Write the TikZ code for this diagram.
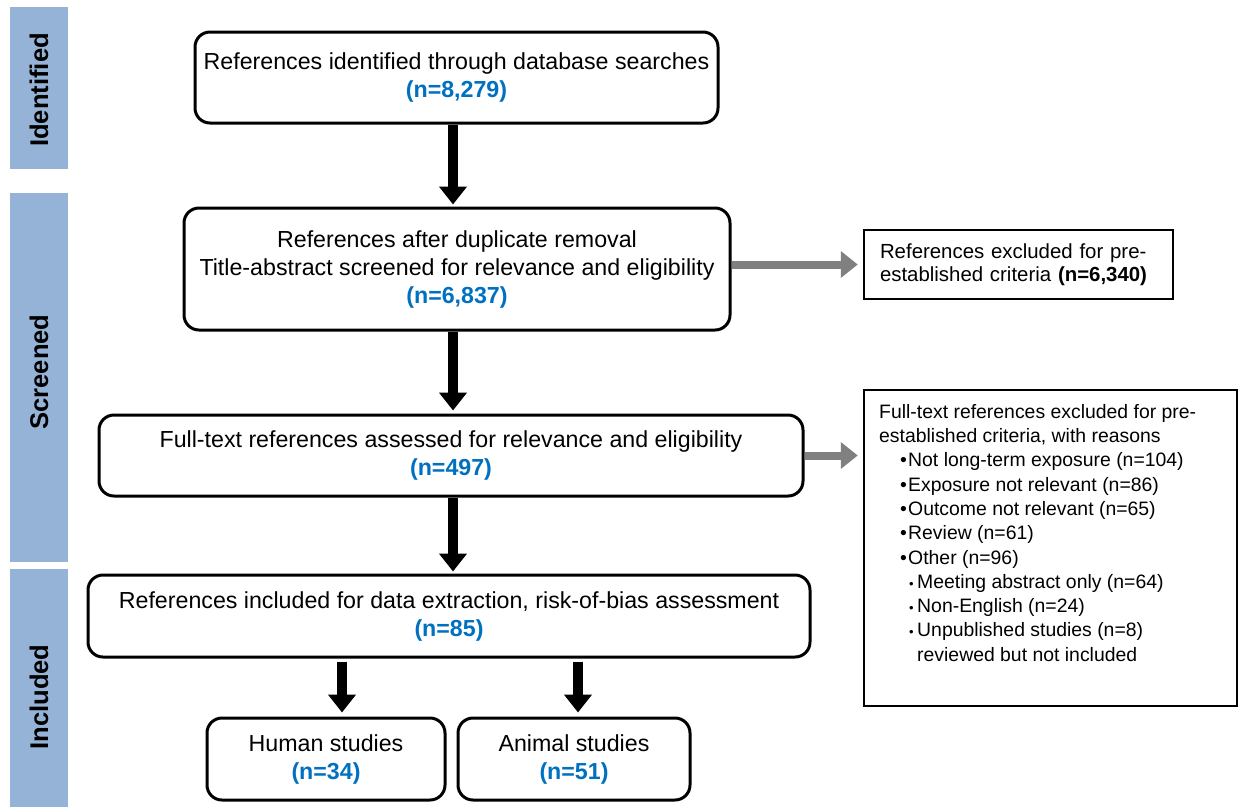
\documentclass[tikz,border=0pt]{standalone}
\usepackage{fontspec}
\setmainfont{Liberation Sans}
\usetikzlibrary{arrows.meta}
\definecolor{barblue}{HTML}{95B3D7}
\definecolor{numblue}{HTML}{0070C0}
\definecolor{sidegray}{HTML}{808080}
\newcommand{\cnt}[1]{\textbf{\color{numblue}#1}}
\newcommand{\itemA}{\hspace*{21pt}\makebox[8pt][l]{\textbullet}}
\newcommand{\itemB}{\hspace*{30pt}\makebox[8pt][l]{\fontsize{13}{13}\selectfont\textbullet}}
\begin{document}
\begin{tikzpicture}[x=1pt, y=-1pt,
	sidebar/.style={fill=barblue, minimum width=58pt, inner sep=0pt},
	sidelabel/.style={rotate=90, inner sep=0pt, font=\fontsize{25.6}{25.6}\selectfont\bfseries},
	stage/.style={draw, line width=3pt, rounded corners=15pt, align=center, inner sep=0pt, font=\fontsize{23.2}{28}\selectfont},
	exclbox/.style={draw, line width=2.5pt, inner sep=0pt},
	flow/.style={line width=10pt, -{Triangle[width=27pt, length=18pt]}},
	aside/.style={line width=8pt, draw=sidegray, -{Triangle[width=26pt, length=17pt]}}]
	\useasboundingbox (0,0) rectangle (1239,807);
	
	% Positions of the boxes
	\coordinate (I) at (456.5,77.5);
	\coordinate (S) at (457,269);
	\coordinate (F) at (451,455.5);
	\coordinate (R) at (449,616);
	\coordinate (H) at (326,759);
	\coordinate (A) at (574,759);
	\coordinate (E) at (1018.5,264.5);
	\coordinate (X) at (1050.5,548);
	
	% x positions of the downward arrows
	\coordinate (mx) at (453,0);
	\coordinate (hx) at (342,0);
	\coordinate (ax) at (578,0);
	
	% Stage bars on the left
	\node[sidebar, minimum height=162pt] (idbar) at (39,88) {};
	\node[sidebar, minimum height=369pt] (scbar) at (39,377.5) {};
	\node[sidebar, minimum height=238pt] (inbar) at (39,688) {};
	\node[sidelabel] (idlabel) at (39,90) {Identified};
	\node[sidelabel] (sclabel) at (39,372) {Screened};
	\node[sidelabel] (inlabel) at (39,697) {Included};
	
	% Main flow boxes
	\node[stage, minimum width=523pt, minimum height=91pt] (ident) at (I)
		{References identified through database searches\\\cnt{(n=8,279)}};
	\node[stage, minimum width=546pt, minimum height=122pt] (screen) at (S)
		{References after duplicate removal\\Title-abstract screened for relevance and eligibility\\\cnt{(n=6,837)}};
	\node[stage, minimum width=704pt, minimum height=81pt] (fulltext) at (F)
		{Full-text references assessed for relevance and eligibility\\\cnt{(n=497)}};
	\node[stage, minimum width=722pt, minimum height=82pt] (incl) at (R)
		{References included for data extraction, risk-of-bias assessment\\\cnt{(n=85)}};
	\node[stage, minimum width=238pt, minimum height=82pt] (human) at (H)
		{Human studies\\\cnt{(n=34)}};
	\node[stage, minimum width=232pt, minimum height=82pt] (animal) at (A)
		{Animal studies\\\cnt{(n=51)}};
	
	% Exclusion boxes
	\node[exclbox, inner xsep=16pt, text width=277pt, minimum height=69pt, align=left,
		font=\fontsize{20.4}{23}\selectfont] (excl) at (E)
		{References excluded for pre-\\established criteria \textbf{(n=6,340)}};
	\node[exclbox, minimum width=373pt, minimum height=316pt] (reasons) at (X) {};
	\node[anchor=north west, inner sep=0pt, align=left, font=\fontsize{19.4}{24.3}\selectfont]
		(reasontxt) at (879,404)
		{Full-text references excluded for pre-\\
		established criteria, with reasons\\
		\itemA Not long-term exposure (n=104)\\
		\itemA Exposure not relevant (n=86)\\
		\itemA Outcome not relevant (n=65)\\
		\itemA Review (n=61)\\
		\itemA Other (n=96)\\
		\itemB Meeting abstract only (n=64)\\
		\itemB Non-English (n=24)\\
		\itemB Unpublished studies (n=8)\\
		\hspace*{38pt}reviewed but not included};
	
	% Downward arrows
	\draw[flow, shorten >=2pt] (ident.south -| mx) -- (screen.north -| mx);
	\draw[flow, shorten >=3pt] (screen.south -| mx) -- (fulltext.north -| mx);
	\draw[flow, shorten >=2pt] (fulltext.south -| mx) -- (incl.north -| mx);
	\draw[flow, shorten <=3pt, shorten >=4pt] (incl.south -| hx) -- (human.north -| hx);
	\draw[flow, shorten <=3pt, shorten >=4pt] (incl.south -| ax) -- (animal.north -| ax);
	
	% Arrows to the exclusion boxes
	\draw[aside, shorten >=5pt] (excl.west -| screen.east) -- (excl.west);
	\draw[aside, shorten >=5pt] (fulltext.east) -- (fulltext.east -| reasons.west);
\end{tikzpicture}
\end{document}
